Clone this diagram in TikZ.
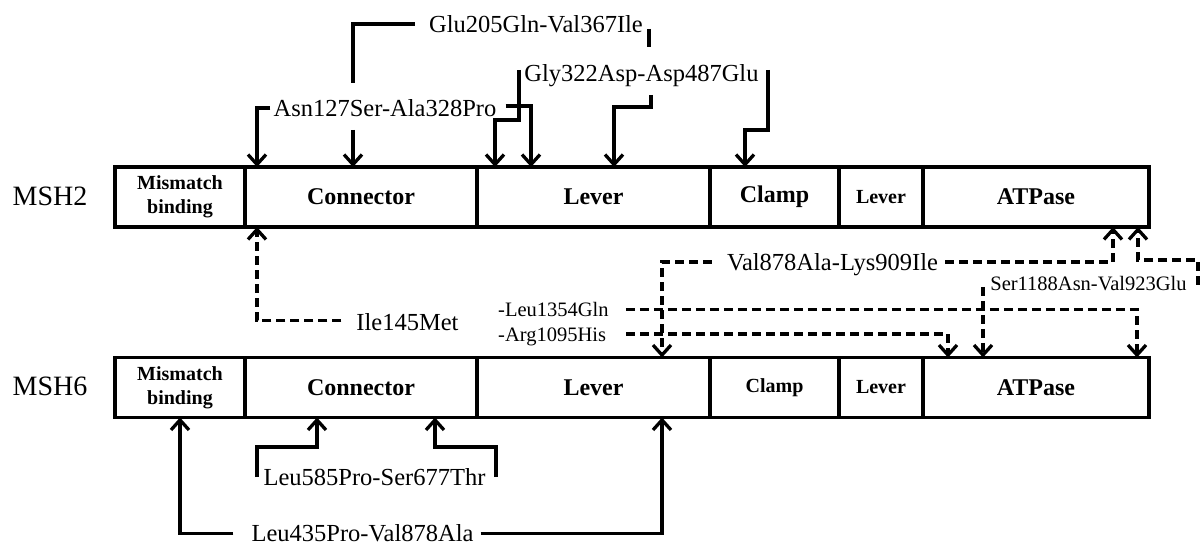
\documentclass[tikz,border=0pt]{standalone}
\usepackage{fontspec}
\setmainfont{Liberation Serif}
\usetikzlibrary{arrows.meta}
\begin{document}
\begin{tikzpicture}[x=1pt,y=-1pt,
  seg/.style={draw, line width=3.5pt, minimum height=60pt, inner sep=0pt, outer sep=0pt,
    anchor=west, align=center, font=\bfseries\fontsize{24}{26}\selectfont},
  segs/.style={seg, font=\bfseries\fontsize{20}{24}\selectfont},
  gene/.style={inner sep=0pt, font=\fontsize{28}{30}\selectfont},
  lab/.style={inner sep=0pt, font=\fontsize{24.5}{28}\selectfont},
  labs/.style={inner sep=0pt, font=\fontsize{20.5}{24}\selectfont},
  link/.style={line width=3.3pt},
  tip/.style={-{Straight Barb[length=10pt,width=18pt]}},
  dsh/.style={dash pattern=on 9pt off 5pt}
]
\useasboundingbox (0,0) rectangle (1200,545);

% MSH2 domain bar
\node[gene] (msh2) at (50,196) {MSH2};
\node[segs, minimum width=130pt] (m2mis) at (115,197) {Mismatch\\binding};
\node[seg, minimum width=232pt] (m2conn) at (m2mis.east) {Connector};
\node[seg, minimum width=233pt] (m2lev) at (m2conn.east) {Lever};
\node[seg, minimum width=129pt] (m2clamp) at (m2lev.east) {Clamp};
\node[segs, minimum width=84pt] (m2lev2) at (m2clamp.east) {Lever};
\node[seg, minimum width=226pt] (m2atp) at (m2lev2.east) {ATPase};

% MSH6 domain bar
\node[gene] (msh6) at (50,386) {MSH6};
\node[segs, minimum width=130pt] (m6mis) at (115,387.5) {Mismatch\\binding};
\node[seg, minimum width=232pt] (m6conn) at (m6mis.east) {Connector};
\node[seg, minimum width=233pt] (m6lev) at (m6conn.east) {Lever};
\node[segs, minimum width=129pt] (m6clamp) at (m6lev.east) {Clamp};
\node[segs, minimum width=84pt] (m6lev2) at (m6clamp.east) {Lever};
\node[seg, minimum width=226pt] (m6atp) at (m6lev2.east) {ATPase};

% variant labels
\node[lab] (glu) at (536,24) {Glu205Gln-Val367Ile};
\node[lab] (asn) at (385,108) {Asn127Ser-Ala328Pro};
\node[lab] (gly) at (641.5,76) {Gly322Asp-Asp487Glu};
\node[lab] (val) at (832.5,265) {Val878Ala-Lys909Ile};
\node[lab] (ile) at (407.5,322.5) {Ile145Met};
\node[labs] (ser) at (1088.5,284) {Ser1188Asn-Val923Glu};
\node[labs, anchor=west] (leu) at (498,309.5) {-Leu1354Gln};
\node[labs, anchor=west] (arg) at (498,337) {-Arg1095His};
\node[lab] (leutop) at (374.5,477) {Leu585Pro-Ser677Thr};
\node[lab] (leubot) at (362.5,533.5) {Leu435Pro-Val878Ala};

% bend and column points
\coordinate (g205) at (353,83);
\coordinate (g205b) at (353,130);
\coordinate (v367a) at (649,29);
\coordinate (v367b) at (649,47);
\coordinate (v367c) at (651,95);
\coordinate (v367d) at (614,107);
\coordinate (a127) at (257,0);
\coordinate (a328) at (531,0);
\coordinate (g322a) at (519,70);
\coordinate (g322b) at (495,120);
\coordinate (a487a) at (768,70);
\coordinate (a487b) at (745,130);
\coordinate (i145) at (257,0);
\coordinate (v878) at (662,0);
\coordinate (k909) at (1113,0);
\coordinate (s1188) at (983,287);
\coordinate (v923a) at (1198,285);
\coordinate (v923b) at (1138,260);
\coordinate (l1354) at (1137,0);
\coordinate (r1095) at (948,0);
\coordinate (l585a) at (257,477);
\coordinate (l585b) at (317,447);
\coordinate (s677a) at (496,477);
\coordinate (s677b) at (435,447);
\coordinate (c435) at (180,0);
\coordinate (c878) at (662,0);

% MSH2 variants from above (solid)
\draw[link] ([xshift=-14pt]glu.west) -| (g205);
\draw[link,tip] (g205b) -- (g205b |- m2conn.north);
\draw[link] (v367a) -- (v367b);
\draw[link,tip] (v367c) |- (v367d) -- (v367d |- m2lev.north);
\draw[link,tip] ([xshift=-3pt]asn.west) -| (a127 |- m2conn.north);
\draw[link,tip] ([xshift=9pt,yshift=2pt]asn.east) -| (a328 |- m2lev.north);
\draw[link,tip] (g322a) |- (g322b) -- (g322b |- m2lev.north);
\draw[link,tip] (a487a) |- (a487b) -- (a487b |- m2clamp.north);

% variants between the bars (dashed)
\draw[link,dsh,tip] ([xshift=-15pt,yshift=2pt]ile.west) -| (i145 |- m2conn.south);
\draw[link,dsh,tip] ([xshift=-15pt,yshift=3pt]val.west) -| (v878 |- m6lev.north);
\draw[link,dsh,tip] ([xshift=7pt,yshift=3pt]val.east) -| (k909 |- m2atp.south);
\draw[link,dsh,tip] (s1188) -- (s1188 |- m6atp.north);
\draw[link,dsh,tip] (v923a) |- (v923b) -- (v923b |- m2atp.south);
\draw[link,dsh,tip] ([xshift=17pt]leu.east) -| (l1354 |- m6atp.north);
\draw[link,dsh,tip] ([xshift=20pt,yshift=3pt]arg.east) -| (r1095 |- m6atp.north);

% MSH6 variants from below (solid)
\draw[link,tip] (l585a) |- (l585b) -- (l585b |- m6conn.south);
\draw[link,tip] (s677a) |- (s677b) -- (s677b |- m6conn.south);
\draw[link,tip] ([xshift=-18pt]leubot.west) -| (c435 |- m6mis.south);
\draw[link,tip] ([xshift=7pt]leubot.east) -| (c878 |- m6lev.south);
\end{tikzpicture}
\end{document}
